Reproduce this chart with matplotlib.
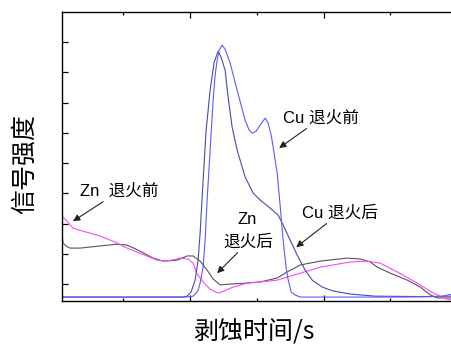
import matplotlib
matplotlib.use("Agg")
import matplotlib.pyplot as plt
import numpy as np

plt.rcParams['font.family'] = ['Liberation Sans', 'Noto Sans CJK SC', 'DejaVu Sans']

# Cu before annealing (light blue)
cu_pre_t = [4, 70, 96.25, 100, 102.25, 104.5, 106, 107.5, 109.75, 111.25, 112.75, 115,
            117.25, 118.75, 120.25, 121.75, 124, 126.25, 130, 135.25, 141.25, 144.25,
            146.5, 149.5, 152.5, 156.25, 158.5, 160.75, 162.25, 165.25, 167.5, 169,
            170.5, 172, 173.5, 175.75, 178.75, 182.5, 257.5, 287.5, 296.5]
cu_pre_i = [0.57, 0.57, 0.57, 0.587, 0.60, 0.70, 0.80, 1.03, 1.56, 2.45, 3.78, 5.43,
            7.08, 7.91, 8.40, 8.74, 8.90, 8.77, 8.31, 7.41, 6.42, 6.09,
            5.99, 6.06, 6.26, 6.49, 6.32, 5.93, 5.53, 4.67, 3.58, 2.79,
            2.12, 1.53, 1.13, 0.74, 0.64, 0.57, 0.57, 0.587, 0.67]

# Cu after annealing (navy)
cu_post_t = [4, 70, 94, 97.75, 100.75, 103.75, 106, 107.5, 109.75, 112, 115, 118, 121,
             123.25, 126.25, 128.5, 131.5, 135.25, 141.25, 147.25, 152.5, 160, 166,
             169.75, 175, 180.25, 186.25, 191.5, 199, 207.25, 220, 238.75, 272.5, 296.5]
cu_post_i = [0.57, 0.57, 0.57, 0.60, 0.74, 1.13, 1.79, 2.69, 4.44, 6.09, 7.41, 8.34, 8.70,
             8.50, 8.07, 7.18, 6.19, 5.43, 4.54, 4.01, 3.78, 3.51, 3.28,
             2.95, 2.45, 1.96, 1.46, 1.13, 0.90, 0.77, 0.67, 0.60, 0.587, 0.60]

# Zn before annealing (black)
zn_pre_t = [4, 4.75, 7, 10, 17.5, 32.5, 45.25, 52.75, 62.5, 72.25, 79.75, 90.25, 97.75,
            102.25, 107.5, 112.75, 117.25, 122.5, 130, 141.25, 152.5, 165.25, 172.75,
            182.5, 197.5, 217.75, 227.5, 235, 240.25, 250, 262.75, 272.5, 280, 285.25, 296.5]
zn_pre_i = [2.69, 2.36, 2.26, 2.19, 2.19, 2.26, 2.32, 2.29, 2.09, 1.86, 1.76, 1.79, 1.93,
            1.93, 1.76, 1.46, 1.17, 0.97, 1.00, 1.03, 1.07, 1.20, 1.40,
            1.63, 1.76, 1.86, 1.83, 1.73, 1.56, 1.36, 1.13, 0.90, 0.64, 0.54, 0.54]

# Zn after annealing (magenta)
zn_post_t = [4, 5.5, 7.75, 12.25, 19.75, 32.5, 45.25, 52.75, 62.5, 75.25, 82.75, 92.5,
             98.5, 102.25, 105.25, 109.75, 115, 121, 127, 132.25, 142.75, 152.5, 165.25,
             182.5, 197.5, 220, 232.75, 242.5, 255.25, 270.25, 282.25, 292.75, 296.5]
zn_post_i = [3.25, 3.18, 3.08, 2.85, 2.75, 2.59, 2.36, 2.19, 2.02, 1.79, 1.76, 1.86,
             1.83, 1.69, 1.33, 1.07, 0.83, 0.70, 0.80, 0.90, 1.03, 1.07, 1.13,
             1.36, 1.56, 1.73, 1.76, 1.69, 1.40, 1.03, 0.70, 0.50, 0.47]

fig = plt.figure(figsize=(4.52, 3.46), dpi=100)
ax = fig.add_axes([62/452, 45/346, 395/452, 289/346])

ax.plot(zn_pre_t, zn_pre_i, color='#555555', lw=0.8)
ax.plot(zn_post_t, zn_post_i, color='#ff44ff', lw=0.8)
ax.plot(cu_post_t, cu_post_i, color='#4a4aa8', lw=0.8)
ax.plot(cu_pre_t, cu_pre_i, color='#5a5aff', lw=0.8)

ax.set_xlim(4, 300)
ax.set_ylim(0.44, 10.0)
ax.set_xticks([100, 200, 300])
ax.set_xticks([50, 150, 250], minor=True)
ax.set_yticks(range(1, 10))
ax.set_xticklabels([])
ax.set_yticklabels([])
ax.tick_params(which='major', direction='in', length=4.5, width=0.9, top=True, right=True)
ax.tick_params(which='minor', direction='in', length=2.5, width=0.9, top=True)
for s in ax.spines.values():
    s.set_linewidth(1.0)

arr = dict(arrowstyle='-|>', color='#222222', lw=0.8, mutation_scale=10, shrinkA=0, shrinkB=0)
fs = 12
ax.annotate('Zn  退火前', xy=(12.25, 3.08), xytext=(17.5, 4.07), fontsize=fs,
            va='center', ha='left', arrowprops=arr)
ax.annotate('Cu 退火前', xy=(166.75, 5.50), xytext=(169.75, 6.49), fontsize=fs,
            va='center', ha='left', arrowprops=arr)
ax.text(142.75, 3.12, 'Zn', fontsize=fs, va='center', ha='center')
ax.annotate('退火后', xy=(120.25, 1.36), xytext=(143.5, 2.39), fontsize=fs,
            va='center', ha='center', arrowprops=arr)
ax.annotate('Cu 退火后', xy=(179.5, 2.22), xytext=(184, 3.35), fontsize=fs,
            va='center', ha='left', arrowprops=arr)

fig.text(25/452, 1 - 164/346, '信号强度', rotation=90, fontsize=18, weight='light',
         ha='center', va='center', family=['Noto Sans CJK SC'])
fig.text(254/452, 1 - 333/346, '剥蚀时间/s', fontsize=18, weight='light',
         ha='center', va='center', family=['Noto Sans CJK SC', 'DejaVu Sans'])

fig.savefig('out.png', dpi=100)
